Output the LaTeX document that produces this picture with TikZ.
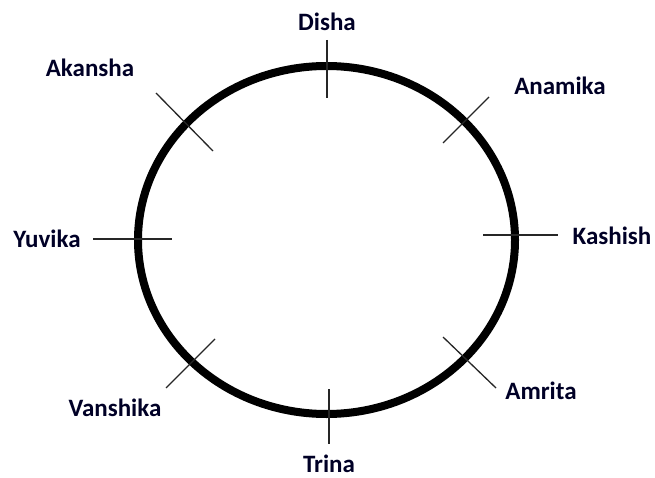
\documentclass[tikz,border=0pt]{standalone}
\usepackage{fontspec}
\usetikzlibrary{shapes.geometric}
\setmainfont{Carlito}
\begin{document}
\begin{tikzpicture}[x=1pt,y=-1pt,
  lbl/.style={font=\fontsize{25}{29}\selectfont\bfseries, text=black!85!blue, inner sep=0pt},
  tick/.style={line width=1.3pt, black!85}]
\useasboundingbox (0,0) rectangle (655,478);
\node[draw, line width=8pt, ellipse, minimum width=377pt, minimum height=348pt, inner sep=0pt] (c) at (326.5,240) {};
% ticks
\coordinate (t1a) at (327,40);  \coordinate (t1b) at (327,98);
\coordinate (t2a) at (489,97);  \coordinate (t2b) at (443,143);
\coordinate (t3a) at (483,235); \coordinate (t3b) at (558,235);
\coordinate (t4a) at (443,337); \coordinate (t4b) at (496,388);
\coordinate (t5a) at (329,389); \coordinate (t5b) at (329,444);
\coordinate (t6a) at (215,339); \coordinate (t6b) at (166,388);
\coordinate (t7a) at (93,239);  \coordinate (t7b) at (172,239);
\coordinate (t8a) at (156,93);  \coordinate (t8b) at (213,151);
\foreach \i in {1,...,8} {\draw[tick] (t\i a) -- (t\i b);}
% labels
\node[lbl] (disha) at (327,22) {Disha};
\node[lbl] (anamika) at (560,86) {Anamika};
\node[lbl] (kashish) at (612,236) {Kashish};
\node[lbl] (amrita) at (541,391) {Amrita};
\node[lbl] (trina) at (329,464) {Trina};
\node[lbl] (vanshika) at (115,408) {Vanshika};
\node[lbl] (yuvika) at (47,239) {Yuvika};
\node[lbl] (akansha) at (90,68) {Akansha};
\end{tikzpicture}
\end{document}
